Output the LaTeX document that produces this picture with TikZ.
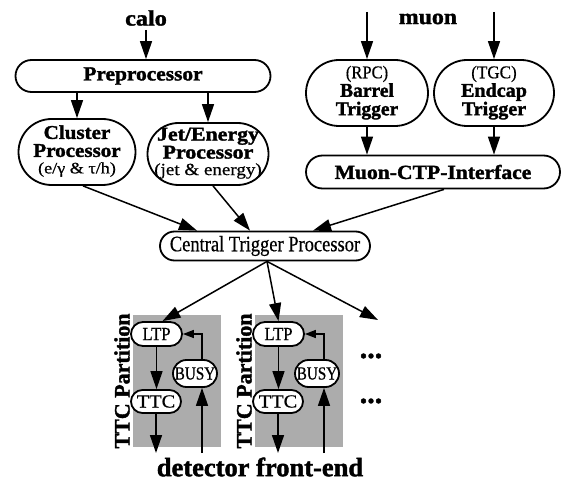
\documentclass[tikz,border=0pt]{standalone}
\usepackage{fontspec}
\setmainfont{Liberation Serif}[FakeBold=0.6, BoldFeatures={FakeBold=1.6}]
\usepackage{graphicx}
\usetikzlibrary{arrows.meta,shapes.misc,calc}
\definecolor{partgray}{RGB}{172,172,172}
\newcommand\sx[2]{\scalebox{#1}[1]{#2}}
\newcommand\fs[1]{\fontsize{#1}{#1}\selectfont}
\begin{document}
\begin{tikzpicture}[x=1pt,y=-1pt,
  blk/.style={rounded rectangle, draw, line width=1.8pt, fill=white, inner sep=0pt},
  arr/.style={-{Triangle[width=12pt,length=18pt]}, line width=1.5pt},
  sarr/.style={-{Triangle[width=8pt,length=11pt]}, line width=1.4pt},
  lbl/.style={inner sep=0pt}]
\useasboundingbox (0,0) rectangle (562,481);

% partitions (background)
\foreach \i/\dx in {1/0,2/122}{
  \fill[partgray] (133+\dx,315) rectangle (221+\dx,447);
  \node[lbl, rotate=90] (tp\i) at (122+\dx,381) {\fs{22}\bfseries TTC Partition};
  \node[blk, minimum width=51pt, minimum height=24pt] (ltp\i) at (156.5+\dx,334) {\makebox[0pt]{\fs{18.5}\sx{0.9}{LTP}}};
  \node[blk, minimum width=44pt, minimum height=27pt] (busy\i) at (195+\dx,373.5) {\makebox[0pt]{\fs{18.5}\sx{0.82}{BUSY}}};
  \node[blk, minimum width=50pt, minimum height=23pt] (ttc\i) at (156+\dx,401.5) {\makebox[0pt]{\fs{18.5}\sx{1.1}{TTC}}};
  \coordinate (fe\i) at (156+\dx,453);
  \coordinate (fb\i) at (202+\dx,453);
  \draw[arr] (ltp\i.south) -- (ltp\i.south |- ttc\i.north);
  \draw[arr] (ttc\i.south) -- (fe\i);
  \draw[arr] (fb\i) -- (fb\i |- busy\i.south);
  \draw[sarr] (fb\i |- busy\i.north) |- (ltp\i.east);
}

% top labels
\node[lbl] (calo) at (146,18) {\fs{22}\bfseries\sx{1.1}{calo}};
\node[lbl] (muon) at (428,19) {\fs{22}\bfseries\sx{1.08}{muon}};
\coordinate (mu1) at (367,12);
\coordinate (mu2) at (494,12);

% calo side
\node[blk, minimum width=255pt, minimum height=32pt] (pre) at (143,76)
  {\makebox[0pt]{\fs{20}\bfseries\sx{1.07}{Preprocessor}}};
\node[blk, minimum width=117pt, minimum height=66pt] (cl) at (77,152)
  {\makebox[0pt]{\sx{1.08}{\fontsize{19.5}{17.5}\selectfont\begin{tabular}{@{}c@{}}\bfseries Cluster\\\bfseries Processor\\[-1pt]\fs{16}\sx{1.05}{(e/γ \& τ/h)}\end{tabular}}}};
\node[blk, minimum width=121pt, minimum height=62pt] (jet) at (208,154)
  {\makebox[0pt]{\sx{1.12}{\fontsize{19.5}{17.5}\selectfont\begin{tabular}{@{}c@{}}\bfseries Jet/Energy\\\bfseries Processor\\[-1pt]\fs{17}(jet \& energy)\end{tabular}}}};

% muon side
\node[blk, minimum width=122pt, minimum height=66pt] (barrel) at (367,93)
  {\makebox[0pt]{\fontsize{19.5}{16.5}\selectfont\begin{tabular}{@{}c@{}}\fs{18}\sx{0.92}{(RPC)}\\\bfseries Barrel\\\bfseries Trigger\end{tabular}}};
\node[blk, minimum width=120pt, minimum height=66pt] (endcap) at (494,93)
  {\makebox[0pt]{\sx{1.03}{\fontsize{19.5}{16.5}\selectfont\begin{tabular}{@{}c@{}}\fs{18}\sx{0.92}{(TGC)}\\\bfseries Endcap\\\bfseries Trigger\end{tabular}}}};
\node[blk, minimum width=254pt, minimum height=33pt] (mci) at (433,172)
  {\makebox[0pt]{\fs{20}\bfseries\sx{1.08}{Muon-CTP-Interface}}};

% CTP
\node[blk, minimum width=210pt, minimum height=29pt] (ctp) at (265,246)
  {\makebox[0pt]{\fs{22}\sx{0.84}{Central Trigger Processor}}};

\coordinate (more) at (378,320);

% dots and bottom label
\node[lbl] (dots1) at (371,356) {\fs{30}\bfseries ...};
\node[lbl] (dots2) at (371,401) {\fs{30}\bfseries ...};
\node[lbl] (dfe) at (260,467) {\fs{26.5}\bfseries detector front-end};

% connectors
\draw[arr] ($(calo.south)+(0,4)$) -- (calo.south |- pre.north);
\draw[arr] (pre.south -| cl.north) -- (cl.north);
\draw[arr] (pre.south -| jet.north) -- (jet.north);
\draw[arr] (mu1) -- (barrel.north);
\draw[arr] (mu2) -- (endcap.north);
\draw[arr] (barrel.south) -- (barrel.south |- mci.north);
\draw[arr] (endcap.south) -- (endcap.south |- mci.north);
\draw[arr] ($(cl.south)+(6,0)$) -- ($(ctp.north)+(-68,0)$);
\draw[arr] ($(jet.south)+(5,0)$) -- ($(ctp.north)+(-15,0)$);
\draw[arr] ($(mci.south)+(11,0)$) -- ($(ctp.north)+(48,0)$);
\draw[arr] ($(ctp.south)+(2,0)$) -- ($(ltp1.north)+(6,0)$);
\draw[arr] ($(ctp.south)+(2,0)$) -- (ltp2.north);
\draw[arr] ($(ctp.south)+(2,0)$) -- (more);
\end{tikzpicture}
\end{document}
